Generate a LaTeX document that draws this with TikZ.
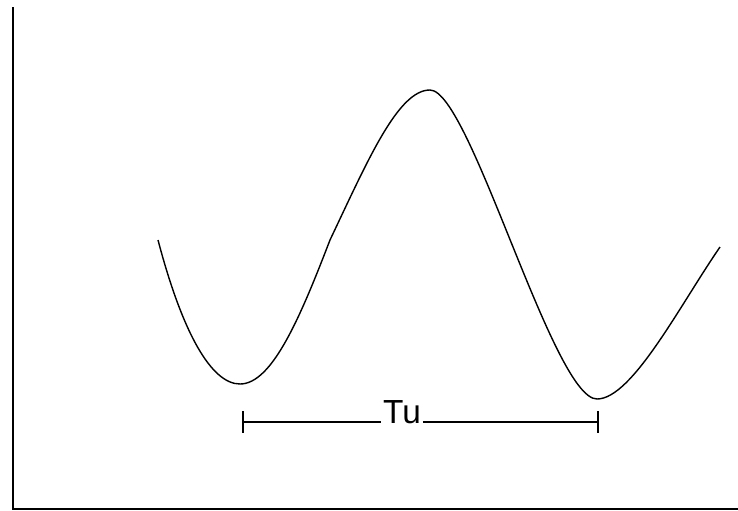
\documentclass[tikz,border=0pt]{standalone}
\usepackage{fontspec}
\setmainfont{Liberation Sans}
\usetikzlibrary{positioning,calc}

\begin{document}
\begin{tikzpicture}[x=0.02cm, y=-0.02cm, every node/.style={align=center}]
      \useasboundingbox (0,0) rectangle (738,511);
      % axes
      \coordinate (top) at (13,7);
      \coordinate (origin) at (13,509);
      \coordinate (right) at (738,509);
      \draw[line width=1.1pt] (top) -- (origin) -- (right);

      % wave
      \coordinate (start) at (158,240);
      \coordinate (min1) at (240,384);
      \coordinate (kink) at (330,240);
      \coordinate (peak) at (430,90);
      \coordinate (min2) at (597,399);
      \coordinate (end) at (720,247);
      \draw[line width=0.8pt] (start) .. controls (183,335) and (212,384) .. (min1)
        .. controls (272,384) and (300,318) .. (kink);
      \draw[line width=0.8pt] (kink) .. controls (368,160) and (398,90) .. (peak)
        .. controls (470,90) and (553,399) .. (min2)
        .. controls (632,399) and (680,305) .. (end);

      % period
      \node[inner sep=1pt, font=\fontsize{19}{19}\selectfont] (tu) at (402,412) {Tu};
      \coordinate (tl) at (243,422);
      \coordinate (tr) at (598,422);
      \draw[line width=0.8pt] (tl) -- (tu.west |- tl);
      \draw[line width=0.8pt] (tu.east |- tr) -- (tr);
      \draw[line width=0.8pt] ($(tl)+(0,-11)$) -- ($(tl)+(0,11)$);
      \draw[line width=0.8pt] ($(tr)+(0,-11)$) -- ($(tr)+(0,11)$);
    \end{tikzpicture}
\end{document}
